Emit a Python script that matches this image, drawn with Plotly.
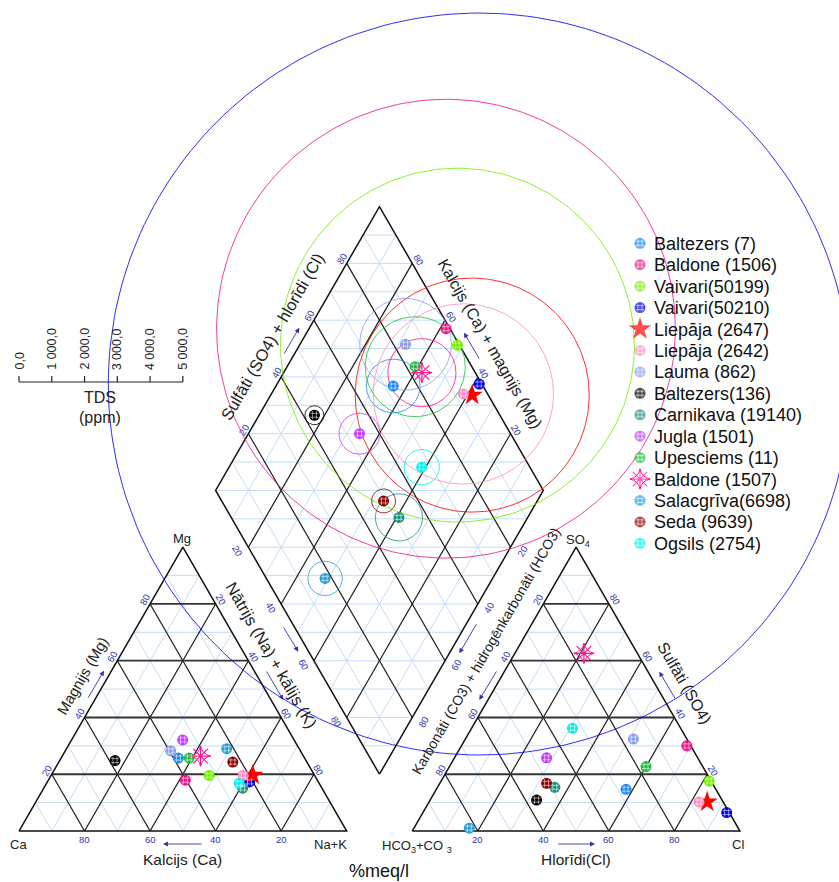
import numpy as np
import plotly.graph_objects as go

# ---------------- data ----------------
names = ["Baltezers (7)", "Baldone (1506)", "Vaivari(50199)", "Vaivari(50210)",
         "Liepāja (2647)", "Liepāja (2642)", "Lauma (862)", "Baltezers(136)",
         "Carnikava (19140)", "Jugla (1501)", "Upesciems (11)", "Baldone (1507)",
         "Salacgrīva(6698)", "Seda (9639)", "Ogsils (2754)"]
colors = ["#1E88F0", "#EE1289", "#76EE00", "#0000EE", "#FF0000", "#FF8CC2",
          "#8C9EEA", "#000000", "#1F8F7E", "#BF3EFF", "#1FBF3F", "#FF1493",
          "#21A0D8", "#8B0000", "#00EEEE"]
symbols = ["circle", "circle", "circle", "circle", "star", "circle", "circle",
           "circle", "circle", "circle", "circle", "asterisk-open", "circle",
           "circle", "circle"]
# cations, %meq/l
mg_pct = [25.7, 17.9, 19.6, 17.3, 19.7, 19.6, 28.2, 24.8, 15.1, 32.1, 25.7, 26.4, 29.0, 24.3, 16.8]
nak_pct = [35.8, 41.8, 48.2, 61.7, 61.5, 58.6, 32.2, 16.9, 60.7, 33.9, 39.1, 42.2, 48.9, 53.1, 58.8]
# anions, %meq/l
so4_pct = [14.7, 30.0, 17.6, 6.5, 10.2, 10.2, 32.4, 10.9, 15.4, 25.8, 22.7, 62.6, 1.0, 16.8, 36.2]
cl_pct = [57.9, 68.8, 81.8, 92.7, 84.9, 82.4, 51.3, 32.5, 35.8, 28.1, 60.0, 21.1, 16.9, 32.6, 30.8]
# total dissolved solids, ppm
tds_ppm = [820, 7000, 5400, 11320, 3570, 2750, 1400, 290, 720, 625, 1525, 1040, 525, 366, 540]

scale_ticks = [0, 1000, 2000, 3000, 4000, 5000]
scale_labels = ["0,0", "1 000,0", "2 000,0", "3 000,0", "4 000,0", "5 000,0"]
grid_ticks = [20, 40, 60, 80]

# ---------------- geometry ----------------
W, H = 839, 882
S = 327.7          # pixels per unit triangle side
X0, Y0 = 19.0, 831.0
H3 = np.sqrt(3) / 2
G = 0.2
RX = 1 + G
BX, BY = 1 + G / 2, G * H3
TDS_UNIT = 0.5 / 5000.0

FONT = "Arial, Liberation Sans, sans-serif"
NAVY = "#3030B0"
LIGHT = "#C4DCF6"


def to_data(xp, yp):
    return (xp - X0) / S, (Y0 - yp) / S


def to_px(x, y):
    return X0 + x * S, Y0 - y * S


def cation_xy(mg, na):
    return na + 0.5 * mg, H3 * mg


def anion_xy(so4, cl):
    return RX + cl + 0.5 * so4, H3 * so4


def diamond_xy(u, v):
    return BX - 0.5 * u + 0.5 * v, BY + H3 * (u + v)


fig = go.Figure()

lx, ly, dx, dy, hx, hy = [], [], [], [], [], []


def add(lx_, ly_, p, q):
    lx_ += [p[0], q[0], None]
    ly_ += [p[1], q[1], None]


for k in range(1, 10):
    f = k / 10
    dark = k % 2 == 0
    tx, ty = (dx, dy) if dark else (lx, ly)
    hx_, hy_ = (hx, hy) if dark else (lx, ly)
    for ox in (0, RX):
        add(hx_, hy_, (ox + 0.5 * f, H3 * f), (ox + 1 - 0.5 * f, H3 * f))
        add(tx, ty, (ox + f, 0), (ox + f + 0.5 * (1 - f), H3 * (1 - f)))
        add(tx, ty, (ox + 1 - f, 0), (ox + 0.5 * (1 - f), H3 * (1 - f)))
    add(tx, ty, diamond_xy(f, 0), diamond_xy(f, 1))
    add(tx, ty, diamond_xy(0, f), diamond_xy(1, f))
for k in range(1, 20):
    s = k / 10
    umin, umax = max(0, s - 1), min(1, s)
    add(lx, ly, diamond_xy(umax, s - umax), diamond_xy(umin, s - umin))

fig.add_trace(go.Scatter(x=lx, y=ly, mode="lines", line=dict(color=LIGHT, width=1),
                         hoverinfo="skip", showlegend=False))
fig.add_trace(go.Scatter(x=dx, y=dy, mode="lines", line=dict(color="#1a1a1a", width=1.2),
                         hoverinfo="skip", showlegend=False))
fig.add_trace(go.Scatter(x=hx, y=hy, mode="lines", line=dict(color="#333333", width=1.8),
                         hoverinfo="skip", showlegend=False))
# outlines
ox_, oy_ = [], []
for ox in (0, RX):
    ox_ += [ox, ox + 1, ox + 0.5, ox, None]
    oy_ += [0, 0, H3, 0, None]
for p in [diamond_xy(0, 0), diamond_xy(1, 0), diamond_xy(1, 1), diamond_xy(0, 1), diamond_xy(0, 0)]:
    ox_.append(p[0]); oy_.append(p[1])
fig.add_trace(go.Scatter(x=ox_, y=oy_, mode="lines", line=dict(color="#111111", width=1.5),
                         hoverinfo="skip", showlegend=False))

# ---------------- TDS circles ----------------
theta = np.linspace(0, 2 * np.pi, 241)
for i, name in enumerate(names):
    naf = nak_pct[i] / 100
    so4f, clf = so4_pct[i] / 100, cl_pct[i] / 100
    cx, cy = diamond_xy(1 - naf, so4f + clf)
    r = tds_ppm[i] * TDS_UNIT
    fig.add_trace(go.Scatter(x=cx + r * np.cos(theta), y=cy + r * np.sin(theta), mode="lines",
                             line=dict(color=colors[i], width=0.9), opacity=0.9,
                             hoverinfo="skip", showlegend=False))

# ---------------- points ----------------
hash_x, hash_y = [], []
for i, name in enumerate(names):
    mgf, naf = mg_pct[i] / 100, nak_pct[i] / 100
    so4f, clf = so4_pct[i] / 100, cl_pct[i] / 100
    pts = [cation_xy(mgf, naf), anion_xy(so4f, clf), diamond_xy(1 - naf, so4f + clf)]
    xs = [p[0] for p in pts]
    ys = [p[1] for p in pts]
    sym = symbols[i]
    if sym == "star":
        mk = dict(symbol="star", size=16, color=colors[i], line=dict(width=0))
    elif sym == "asterisk-open":
        mk = dict(symbol="asterisk-open", size=17, color=colors[i], line=dict(color=colors[i], width=1.2))
        fig.add_trace(go.Scatter(x=xs, y=ys, mode="markers", hoverinfo="skip", showlegend=False,
                                 marker=dict(symbol="star-square-open", angle=45, size=13,
                                             color=colors[i], line=dict(color=colors[i], width=1))))
    else:
        mk = dict(symbol="circle", size=11, color=colors[i], line=dict(width=0))
        hash_x += xs
        hash_y += ys
    fig.add_trace(go.Scatter(x=xs, y=ys, mode="markers", marker=mk, name=name, showlegend=False))

# ---------------- manual legend ----------------
LEG_X, LEG_Y0, LEG_DY = 640, 243.3, 21.43
leg_x = [to_data(LEG_X, LEG_Y0 + i * LEG_DY)[0] for i in range(len(names))]
leg_y = [to_data(LEG_X, LEG_Y0 + i * LEG_DY)[1] for i in range(len(names))]
leg_size = [17 if s == "star" else (17 if s == "asterisk-open" else 11) for s in symbols]
fig.add_trace(go.Scatter(x=leg_x, y=leg_y, mode="markers", hoverinfo="skip", showlegend=False,
                         marker=dict(symbol=symbols, size=leg_size, color=colors,
                                     line=dict(color=colors, width=[1.2 if s == "asterisk-open" else 0 for s in symbols]))))
for i, s in enumerate(symbols):
    if s == "circle":
        hash_x.append(leg_x[i]); hash_y.append(leg_y[i])
    if s == "asterisk-open":
        fig.add_trace(go.Scatter(x=[leg_x[i]], y=[leg_y[i]], mode="markers", hoverinfo="skip",
                                 showlegend=False,
                                 marker=dict(symbol="star-square-open", angle=45, size=13,
                                             color=colors[i], line=dict(color=colors[i], width=1))))
fig.add_trace(go.Scatter(x=hash_x, y=hash_y, mode="markers", hoverinfo="skip", showlegend=False,
                         marker=dict(symbol="hash-open", size=8, color="rgba(255,255,255,0.55)",
                                     line=dict(color="rgba(255,255,255,0.55)", width=1))))

annotations = []


def text_px(xp, yp, text, size=12, color="#222222", angle=0, xanchor="center", yanchor="middle"):
    annotations.append(dict(x=xp / W, y=1 - yp / H, xref="paper", yref="paper", text=text,
                            showarrow=False, textangle=angle, xanchor=xanchor, yanchor=yanchor,
                            font=dict(family=FONT, size=size, color=color)))


def text_data(p, dxp, dyp, text, angle):
    xp, yp = to_px(*p)
    text_px(xp + dxp, yp + dyp, text, size=9.5, color=NAVY, angle=angle)


def arrow_px(x1, y1, x2, y2):
    # from (x1,y1) to head (x2,y2) in pixels
    annotations.append(dict(x=x2 / W, y=1 - y2 / H, xref="paper", yref="paper", ax=x1 - x2,
                            ay=y1 - y2, text="", showarrow=True, arrowhead=2, arrowsize=1.1,
                            arrowwidth=0.9, arrowcolor=NAVY))


for i, name in enumerate(names):
    text_px(LEG_X + 12, LEG_Y0 + i * LEG_DY + 0.5, name, size=18, color="#111111", xanchor="left")

# ---------------- tick labels ----------------
for t in grid_ticks:
    f = t / 100
    # left triangle
    text_data((1 - f, 0), 0, 8, str(t), 0)                      # Ca along bottom
    text_data((0.5 * f, H3 * f), -5, -4, str(t), -60)           # Mg left edge
    text_data(cation_xy(1 - f, f), 5, -4, str(t), 60)           # Na right edge
    # right triangle
    text_data((RX + f, 0), 0, 8, str(t), 0)                     # Cl along bottom
    text_data(anion_xy(1 - f, 0), -5, -4, str(t), -60)          # HCO3 left edge
    text_data(anion_xy(f, 1 - f), 6, -4, str(t), 60)            # SO4 right edge
    # diamond
    text_data(diamond_xy(1 - f, 0), -10.5, 4, str(t), 60)       # Na lower-left
    text_data(diamond_xy(0, 1 - f), 11.5, 4, str(t), -60)       # HCO3 lower-right
    text_data(diamond_xy(1, f), -4.5, -4.5, str(t), -60)        # SO4+Cl upper-left
    text_data(diamond_xy(f, 1), 6, -3.5, str(t), 60)            # Ca+Mg upper-right

# vertex labels
text_px(18, 844, "Ca", size=13)
text_px(182, 538, "Mg", size=13)
text_px(330, 844, "Na+K", size=13)
text_px(578, 540, "SO<sub>4</sub>", size=13)
text_px(738, 844, "Cl", size=13)
text_px(417, 846, "HCO<sub>3</sub>+CO <sub>3</sub>", size=13)

# axis titles
text_px(182, 859, "Kalcijs (Ca)", size=15.5)
text_px(82.5, 675.5, "Magnijs (Mg)", size=15)
text_px(271.5, 655, "Nātrijs (Na) + kālijs (K)", size=16.5, angle=60)
text_px(575.5, 859, "Hlorīdi(Cl)", size=15.5)
text_px(685, 683, "Sulfāti (SO4)", size=16, angle=60)
text_px(486, 651, "Karbonāti (CO3) + hidrogēnkarbonāti (HCO3)", size=14, angle=-60)
text_px(272, 337, "Sulfāti (SO4) + hlorīdi (Cl)", size=16.5, angle=-60)
text_px(490, 343.5, "Kalcijs (Ca) + magnijs (Mg)", size=16, angle=60)
text_px(379, 871, "%meq/l", size=18, color="#111111")
annotations[-8]["textangle"] = -60

# arrows
arrow_px(203, 844, 163, 844)
arrow_px(87.3, 699.3, 104, 670.7)
arrow_px(282.7, 626, 298.3, 651.7)
arrow_px(265.7, 670, 283.3, 700)
arrow_px(556.7, 844, 595, 844)
arrow_px(676, 700, 659.3, 671.7)
arrow_px(477.3, 622.7, 459.3, 653.3)
arrow_px(497.3, 670, 479.3, 700)
arrow_px(283.3, 355, 299.3, 327.7)
arrow_px(480, 360, 464, 332.7)

# ---------------- TDS scale ----------------
SCALE_Y = 382.0
sx0 = to_data(0, SCALE_Y)[1]
bar_x = [v * TDS_UNIT for v in scale_ticks]
fig.add_trace(go.Scatter(x=[bar_x[0], bar_x[-1]], y=[sx0, sx0], mode="lines",
                         line=dict(color="#222222", width=1.2), hoverinfo="skip", showlegend=False))
tick_top = to_data(0, SCALE_Y - 6)[1]
tx_, ty_ = [], []
for bx in bar_x:
    tx_ += [bx, bx, None]
    ty_ += [sx0, tick_top, None]
fig.add_trace(go.Scatter(x=tx_, y=ty_, mode="lines", line=dict(color="#222222", width=1.2),
                         hoverinfo="skip", showlegend=False))
for bx, lab in zip(bar_x, scale_labels):
    xp, _ = to_px(bx, 0)
    text_px(xp, 372, lab, size=12.5, angle=-90, yanchor="bottom")
text_px(99.5, 397, "TDS", size=16)
text_px(99.5, 417.5, "(ppm)", size=16)

fig.update_layout(
    width=W, height=H, margin=dict(l=0, r=0, t=0, b=0), autosize=False,
    plot_bgcolor="white", paper_bgcolor="white", showlegend=False,
    xaxis=dict(range=[-X0 / S, (W - X0) / S], visible=False, fixedrange=True),
    yaxis=dict(range=[(Y0 - H) / S, Y0 / S], visible=False, fixedrange=True),
    annotations=annotations,
)
fig.write_html("out.html")
